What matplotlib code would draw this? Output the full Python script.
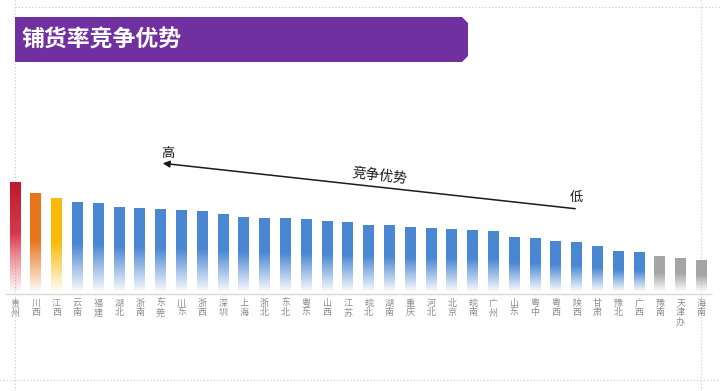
import numpy as np
import matplotlib
matplotlib.use("Agg")
import matplotlib.pyplot as plt
import matplotlib.colors as mcolors
from matplotlib.patches import Polygon, FancyArrowPatch
from matplotlib.lines import Line2D

plt.rcParams['font.family'] = ['Noto Sans CJK SC', 'DejaVu Sans']

# data (bar heights, arbitrary units)
regions = ["贵州", "川西", "江西", "云南", "福建", "湖北", "浙南", "东莞", "川东", "浙西",
           "深圳", "上海", "浙北", "东北", "粤东", "山西", "江苏", "皖北", "湖南", "重庆",
           "河北", "北京", "皖南", "广州", "山东", "粤中", "粤西", "陕西", "甘肃", "豫北",
           "广西", "豫南", "天津办", "海南"]
values = [109, 98, 93, 89.5, 88.5, 84, 83.3, 81.7, 81, 80.3,
          76.7, 74.3, 73.3, 72.7, 72, 70, 69, 66.3, 66, 63.7,
          62.7, 61.7, 61.5, 60.3, 53.7, 52.7, 49.7, 49, 45, 40,
          38.7, 35, 33.3, 31]
groups = ["red", "orange", "yellow"] + ["blue"] * 28 + ["gray"] * 3

group_colors = {"red": "#c0182c", "orange": "#e8741c", "yellow": "#f9bb0a",
                "blue": "#4a87d3", "gray": "#a5a5a5"}

W, H = 720, 391
fig = plt.figure(figsize=(W / 100, H / 100), dpi=100)
fig.patch.set_facecolor("white")


def fp(px, py):
    # pixel (from top-left) -> figure fraction
    return (px / W, 1 - py / H)


ax = fig.add_axes([0, 0, 1, 1])
ax.set_axis_off()
x0, dx, base = 15, 20.8, 291
ax.set_xlim(-x0 / dx, (W - x0) / dx)
ax.set_ylim(base - H, base)

# faint slide guides
guide = dict(color="#c8c8c8", lw=0.8, ls=(0, (1, 2)), zorder=0)
fig.add_artist(Line2D([fp(15, 0)[0], 1], [fp(0, 7)[1]] * 2, transform=fig.transFigure, **guide))
fig.add_artist(Line2D([0, 1], [fp(0, 380)[1]] * 2, transform=fig.transFigure, **guide))
fig.add_artist(Line2D([fp(15, 0)[0]] * 2, [0, 1], transform=fig.transFigure, **guide))
fig.add_artist(Line2D([fp(701, 0)[0]] * 2, [0, 1], transform=fig.transFigure, **guide))


def gradient(kind, n=120):
    t = np.linspace(0, 1, n)
    img = np.ones((n, 1, 4))
    rgb = np.array(mcolors.to_rgb(group_colors[kind]))
    if kind == "red":
        light = np.array(mcolors.to_rgb("#e24a5c"))
        mix = np.clip((t - 0.3) / 0.7, 0, 1)[:, None]
        img[:, 0, :3] = light * (1 - mix) + rgb * mix
    else:
        img[:, 0, :3] = rgb
    img[:, 0, 3] = np.clip(0.05 + t / 0.55, 0, 1)
    return img


xs = np.arange(len(regions))
bars = ax.bar(xs, values, width=0.52, color="none", edgecolor="none", zorder=2)
for patch, kind in zip(bars, groups):
    bx, bw, bh = patch.get_x(), patch.get_width(), patch.get_height()
    im = ax.imshow(gradient(kind), extent=[bx, bx + bw, 0, bh], origin="lower",
                   aspect="auto", interpolation="bilinear", zorder=2)
    im.set_clip_path(patch)
ax.set_xlim(-x0 / dx, (W - x0) / dx)
ax.set_ylim(base - H, base)

# baseline
ax.hlines(-3, -0.48, 33.5, color="#d9d9d9", lw=1, zorder=1)

for x, name in zip(xs, regions):
    ax.text(x, -8, "\n".join(name), ha="center", va="top", fontsize=6.5,
            color="#8c8c8c", linespacing=1.05)

# title banner
banner = Polygon([fp(15, 17), fp(462, 17), fp(468, 23), fp(468, 56), fp(462, 62), fp(15, 62)],
                 closed=True, transform=fig.transFigure, facecolor="#7030a0", edgecolor="none")
fig.add_artist(banner)
fig.text(*fp(21, 40), "铺货率竞争优势", color="white", fontsize=16.5, fontweight="bold",
         ha="left", va="center")

# competitive advantage arrow
arrow = FancyArrowPatch(fp(578, 209), fp(160, 163), transform=fig.transFigure,
                        arrowstyle="-|>,head_length=4,head_width=2", color="#1a1a1a", lw=1.1)
fig.add_artist(arrow)
fig.text(*fp(168, 154), "高", fontsize=9.5, color="#1a1a1a", ha="center", va="center")
fig.text(*fp(576, 197), "低", fontsize=9.5, color="#1a1a1a", ha="center", va="center")
fig.text(*fp(380, 176), "竞争优势", fontsize=10, color="#1a1a1a", ha="center", va="center",
         rotation=-6.3, rotation_mode="anchor")

fig.savefig("out.png", dpi=100)
